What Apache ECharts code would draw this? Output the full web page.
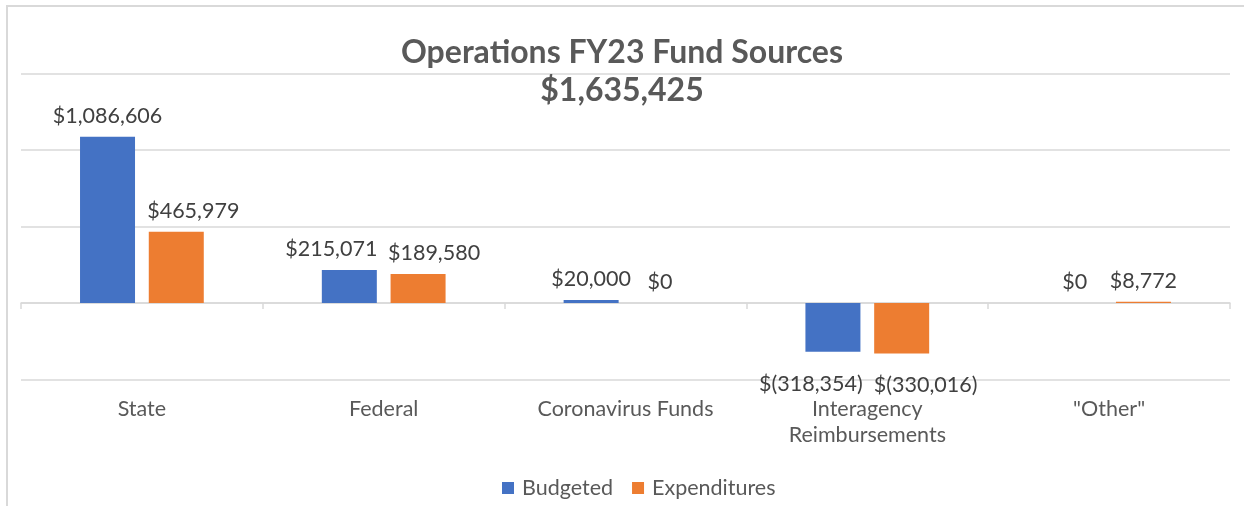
<!DOCTYPE html>
<html>
<head>
<meta charset="utf-8">
<script src="https://cdn.jsdelivr.net/npm/echarts@6/dist/echarts.min.js"></script>
<style>
  html, body { margin: 0; padding: 0; background: #fff; }
  #main { width: 1244px; height: 506px; }
</style>
</head>
<body>
<div id="main"></div>
<script>
// 数据
let categories = ['State', 'Federal', 'Coronavirus Funds', 'Interagency\nReimbursements', '"Other"'];
let budgeted = [1086606, 215071, 20000, -318354, 0];
let expenditures = [465979, 189580, 0, -330016, 8772];
let seriesNames = ['Budgeted', 'Expenditures'];
// 标签左右微调(避免重叠)
let budgetNudge = [0, -18, 0, -22, 0];
let expendNudge = [17, 16, 0, 24, 0];

// 金额格式 $1,234 / $(1,234)
function money(v) {
    let s = Math.abs(v).toLocaleString('en-US');
    return v < 0 ? '$(' + s + ')' : '$' + s;
}

function withLabels(arr, nudge) {
    return arr.map((v, i) => ({
        value: v,
        label: v < 0
            ? { position: 'bottom', distance: 21, offset: [nudge[i], 0] }
            : { position: 'top', distance: 10, offset: [nudge[i], 0] }
    }));
}

let myChart = echarts.init(document.getElementById('main'));
let font = 'Lato, "Open Sans", sans-serif';
let option = {
    animation: false,
    backgroundColor: '#fff',
    title: {
        text: 'Operations FY23 Fund Sources',
        subtext: '$1,635,425',
        left: 'center',
        top: 30,
        itemGap: 2,
        textStyle: { fontFamily: font, fontSize: 32, fontWeight: 'bold', color: '#595959', lineHeight: 36 },
        subtextStyle: { fontFamily: font, fontSize: 32, fontWeight: 'bold', color: '#595959', lineHeight: 36 }
    },
    graphic: [{
        type: 'rect',
        shape: { x: 7, y: 6, width: 1260, height: 520 },
        style: { fill: 'none', stroke: '#d9d9d9', lineWidth: 2 },
        silent: true
    }],
    legend: {
        data: seriesNames,
        bottom: 2,
        left: 497,
        icon: 'rect',
        itemWidth: 12,
        itemHeight: 12,
        itemGap: 19,
        textStyle: { fontFamily: font, fontSize: 21.5, color: '#595959', padding: [0, 0, 0, 3] }
    },
    grid: { left: 21, right: 14, top: 73.5, bottom: 126.5 },
    xAxis: [
        {
            type: 'category',
            data: categories,
            axisLine: { show: false, onZero: false },
            axisTick: { show: false },
            axisLabel: { margin: 17, fontFamily: font, fontSize: 21.5, color: '#595959', lineHeight: 26, interval: 0 }
        },
        {
            type: 'category',
            data: categories,
            position: 'bottom',
            axisLine: { show: true, onZero: true, lineStyle: { color: '#d9d9d9', width: 1.5 } },
            axisTick: { show: true, length: 6, lineStyle: { color: '#d9d9d9', width: 1.5 } },
            axisLabel: { show: false }
        }
    ],
    yAxis: {
        type: 'value',
        min: -500000,
        max: 1500000,
        interval: 500000,
        axisLabel: { show: false },
        axisLine: { show: false },
        axisTick: { show: false },
        splitLine: { lineStyle: { color: '#d9d9d9', width: 1.5 } }
    },
    series: [
        {
            name: seriesNames[0],
            type: 'bar',
            xAxisIndex: 0,
            barWidth: 55,
            barGap: '25%',
            itemStyle: { color: '#4472C4' },
            label: {
                show: true,
                fontFamily: font, fontSize: 21.5, color: '#404040',
                formatter: p => money(p.value)
            },
            data: withLabels(budgeted, budgetNudge)
        },
        {
            name: seriesNames[1],
            type: 'bar',
            xAxisIndex: 0,
            barWidth: 55,
            barGap: '25%',
            itemStyle: { color: '#ED7D31' },
            label: {
                show: true,
                fontFamily: font, fontSize: 21.5, color: '#404040',
                formatter: p => money(p.value)
            },
            data: withLabels(expenditures, expendNudge)
        }
    ]
};
myChart.setOption(option);
</script>
</body>
</html>
